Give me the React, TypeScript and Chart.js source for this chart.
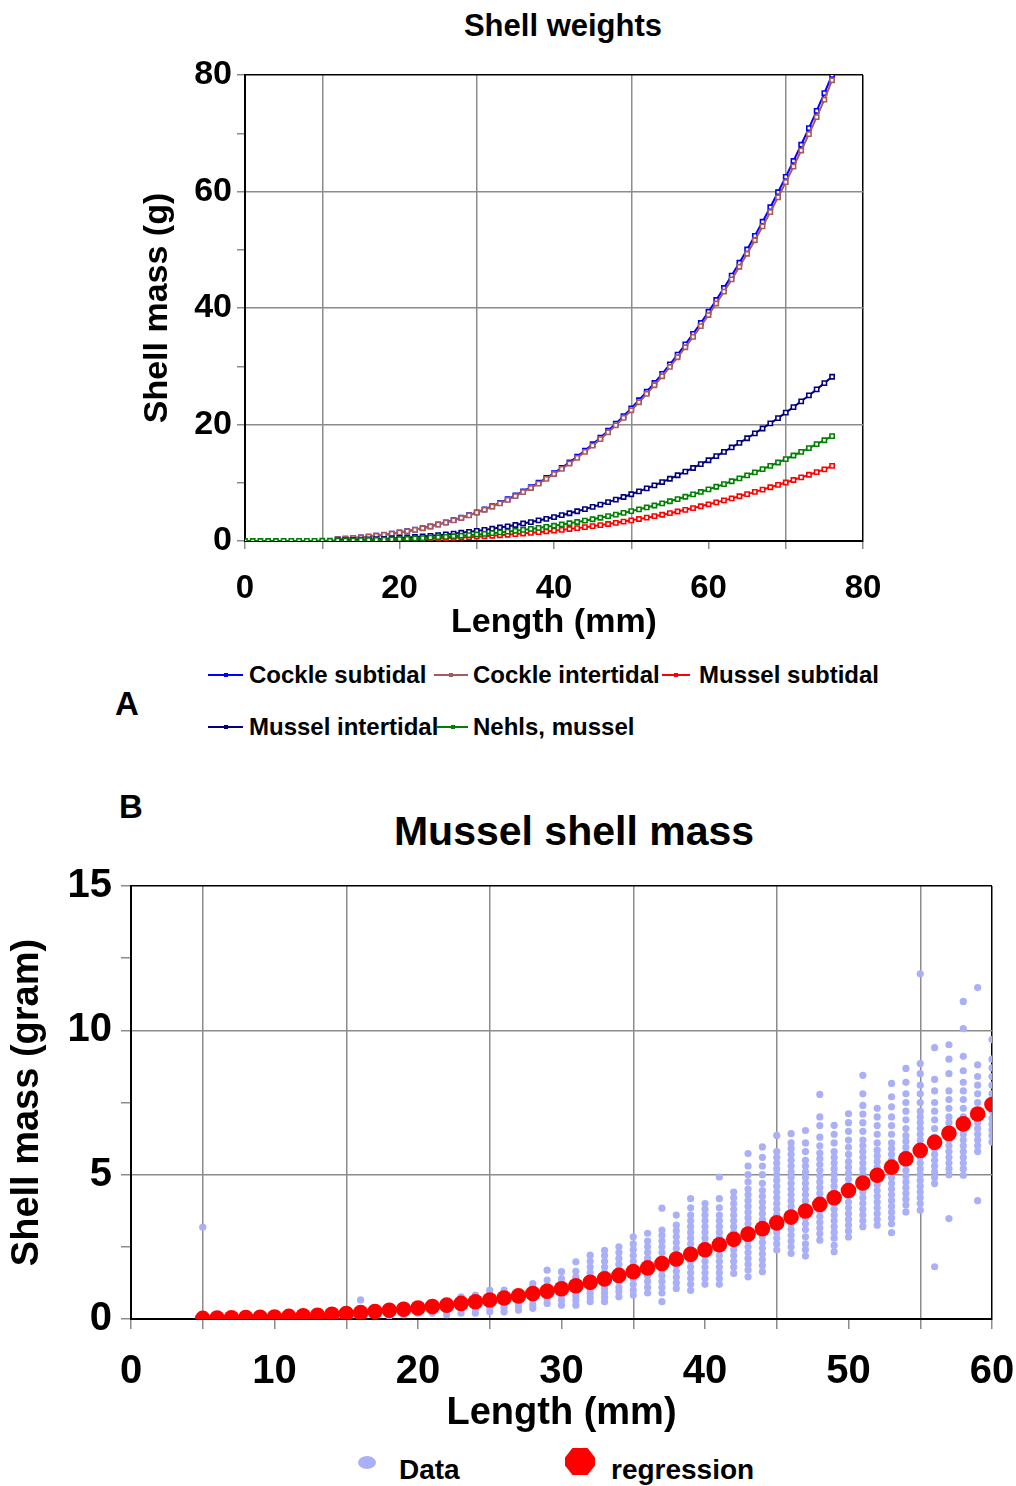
import React, { useEffect, useRef } from "react";
import { Chart, registerables } from "chart.js";

Chart.register(...registerables);

const FONT = "'Liberation Sans', Arial, Helvetica, sans-serif";
Chart.defaults.font.family = FONT;
Chart.defaults.color = "#000";

// ---------- Chart A: Shell weights ----------
const topLengths = [
  0, 1, 2, 3, 4, 5, 6, 7, 8, 9, 10, 11, 12, 13, 14, 15, 16, 17, 18, 19, 20,
  21, 22, 23, 24, 25, 26, 27, 28, 29, 30, 31, 32, 33, 34, 35, 36, 37, 38, 39, 40,
  41, 42, 43, 44, 45, 46, 47, 48, 49, 50, 51, 52, 53, 54, 55, 56, 57, 58, 59, 60,
  61, 62, 63, 64, 65, 66, 67, 68, 69, 70, 71, 72, 73, 74, 75, 76,
];
const N12 = [null, null, null, null, null, null, null, null, null, null, null, null];
const cockleSubtidal = [
  ...N12,
  0.32, 0.40, 0.50, 0.62, 0.75, 0.90, 1.06, 1.25, 1.46,
  1.69, 1.94, 2.22, 2.52, 2.85, 3.20, 3.59, 4.00, 4.45, 4.92,
  5.43, 5.97, 6.55, 7.16, 7.81, 8.50, 9.23, 10.00, 10.81, 11.66,
  12.56, 13.50, 14.49, 15.52, 16.61, 17.74, 18.92, 20.15, 21.44, 22.78,
  24.17, 25.62, 27.13, 28.70, 30.32, 32.00, 33.75, 35.56, 37.43, 39.36,
  41.37, 43.43, 45.57, 47.77, 50.05, 52.39, 54.81, 57.30, 59.87, 62.51,
  65.23, 68.02, 70.89, 73.85, 76.88, 80.00,
];
const cockleIntertidal = [
  ...N12,
  0.33, 0.42, 0.52, 0.63, 0.76, 0.91, 1.07, 1.25, 1.45,
  1.67, 1.92, 2.19, 2.49, 2.81, 3.16, 3.54, 3.95, 4.39, 4.86,
  5.36, 5.89, 6.46, 7.06, 7.71, 8.39, 9.10, 9.86, 10.66, 11.50,
  12.38, 13.31, 14.28, 15.30, 16.37, 17.49, 18.65, 19.86, 21.13, 22.45,
  23.82, 25.25, 26.74, 28.28, 29.88, 31.54, 33.26, 35.04, 36.88, 38.79,
  40.77, 42.80, 44.91, 47.08, 49.32, 51.63, 54.01, 56.47, 59.00, 61.60,
  64.28, 67.03, 69.86, 72.77, 75.76, 79.10,
];
const musselSubtidal = [
  ...N12,
  0.05, 0.06, 0.08, 0.09, 0.11, 0.13, 0.16, 0.19, 0.22,
  0.25, 0.29, 0.33, 0.38, 0.43, 0.48, 0.54, 0.60, 0.67, 0.74,
  0.82, 0.90, 0.99, 1.08, 1.18, 1.29, 1.40, 1.52, 1.64, 1.77,
  1.91, 2.06, 2.21, 2.37, 2.55, 2.73, 2.92, 3.12, 3.33, 3.55,
  3.77, 4.01, 4.26, 4.51, 4.78, 5.06, 5.35, 5.65, 5.97, 6.30,
  6.63, 6.97, 7.32, 7.68, 8.05, 8.43, 8.82, 9.22, 9.63, 10.05,
  10.48, 10.92, 11.37, 11.83, 12.30, 12.90,
];
const musselIntertidal = [
  ...N12,
  0.11, 0.14, 0.18, 0.22, 0.26, 0.32, 0.37, 0.44, 0.51,
  0.60, 0.68, 0.78, 0.89, 1.00, 1.13, 1.26, 1.41, 1.57, 1.73,
  1.91, 2.11, 2.31, 2.52, 2.75, 3.00, 3.25, 3.53, 3.81, 4.11,
  4.43, 4.76, 5.11, 5.47, 5.86, 6.25, 6.67, 7.10, 7.56, 8.03,
  8.52, 9.03, 9.56, 10.12, 10.69, 11.28, 11.90, 12.54, 13.19, 13.87,
  14.58, 15.31, 16.06, 16.84, 17.64, 18.47, 19.32, 20.20, 21.10, 22.03,
  22.99, 23.98, 24.99, 26.03, 27.10, 28.20,
];
const nehlsMussel = [
  0, 0, 0, 0, 0, 0.01, 0.01, 0.01, 0.02, 0.03, 0.04, 0.05,
  0.07, 0.09, 0.11, 0.14, 0.17, 0.20, 0.24, 0.28, 0.33,
  0.38, 0.44, 0.50, 0.57, 0.64, 0.72, 0.81, 0.90, 1.00, 1.11,
  1.22, 1.34, 1.47, 1.61, 1.76, 1.91, 2.08, 2.25, 2.43, 2.62,
  2.83, 3.04, 3.26, 3.49, 3.74, 3.99, 4.26, 4.53, 4.82, 5.13,
  5.44, 5.76, 6.10, 6.46, 6.82, 7.20, 7.59, 8.00, 8.42, 8.86,
  9.31, 9.77, 10.25, 10.75, 11.26, 11.79, 12.33, 12.89, 13.47, 14.06,
  14.68, 15.30, 15.95, 16.62, 17.30, 18.00,
];
const topSeriesNames = [
  "Cockle subtidal",
  "Cockle intertidal",
  "Mussel subtidal",
  "Mussel intertidal",
  "Nehls, mussel",
];
const topSeriesValues = [cockleSubtidal, cockleIntertidal, musselSubtidal, musselIntertidal, nehlsMussel];
const topSeriesColors = ["#0000ff", "#a85a5a", "#ff0000", "#000080", "#008000"];
const topXTicks = [0, 20, 40, 60, 80];
const topYTicks = [0, 20, 40, 60, 80];

// ---------- Chart B: Mussel shell mass ----------
const dataLengths = [
  5, 16, 17, 18, 19, 20, 21, 22, 23, 24, 25, 26, 27, 28, 29, 30, 31, 32, 33, 34,
  35, 36, 37, 38, 39, 40, 41, 42, 43, 44, 45, 46, 47, 48, 49, 50, 51, 52, 53, 54,
  55, 56, 57, 58, 59, 60,
];
const dataMasses = [
  [3.18],
  [0.66, 0.35],
  [0.3, 0.2],
  [0.1, 0.25, 0.4],
  [0.15, 0.3, 0.48],
  [0.2, 0.35, 0.5],
  [0.2, 0.3, 0.45],
  [0.15, 0.3, 0.48, 0.6],
  [0.2, 0.35, 0.5, 0.65, 0.77],
  [0.2, 0.35, 0.5, 0.65, 0.83],
  [0.25, 0.4, 0.55, 0.7, 0.85, 1.0],
  [0.25, 0.4, 0.55, 0.7, 0.85, 1.0],
  [0.3, 0.45, 0.6, 0.7, 0.83],
  [0.37, 0.5, 0.65, 0.8, 0.95, 1.1, 1.23],
  [0.54, 0.7, 0.85, 1.0, 1.15, 1.35, 1.69],
  [0.48, 0.65, 0.8, 0.95, 1.1, 1.25, 1.4, 1.64],
  [0.48, 0.65, 0.8, 0.95, 1.1, 1.25, 1.45, 1.65, 1.98],
  [0.6, 0.75, 0.9, 1.05, 1.2, 1.4, 1.6, 1.8, 2.0, 2.21],
  [0.6, 0.75, 0.9, 1.05, 1.2, 1.4, 1.6, 1.8, 2.0, 2.2, 2.38],
  [0.77, 0.95, 1.1, 1.3, 1.5, 1.7, 1.9, 2.1, 2.3, 2.5],
  [0.83, 1.0, 1.2, 1.4, 1.6, 1.8, 2.0, 2.2, 2.4, 2.6, 2.85],
  [0.9, 1.1, 1.3, 1.5, 1.7, 1.9, 2.1, 2.3, 2.5, 2.7, 2.97],
  [0.6, 0.9, 1.1, 1.3, 1.5, 1.7, 1.9, 2.1, 2.3, 2.5, 2.7, 2.9, 3.08, 3.84],
  [1.06, 1.25, 1.45, 1.65, 1.85, 2.05, 2.25, 2.45, 2.65, 2.85, 3.05, 3.25, 3.6],
  [0.99, 1.2, 1.4, 1.6, 1.8, 2.0, 2.2, 2.4, 2.6, 2.8, 3.0, 3.2, 3.4, 3.6, 3.85, 4.17],
  [1.2, 1.4, 1.6, 1.8, 2.0, 2.2, 2.4, 2.6, 2.8, 3.0, 3.2, 3.4, 3.6, 3.8, 4.0],
  [1.2, 1.4, 1.6, 1.8, 2.0, 2.2, 2.4, 2.6, 2.8, 3.0, 3.2, 3.4, 3.6, 3.85, 4.17, 4.92],
  [1.58, 1.8, 2.0, 2.2, 2.4, 2.6, 2.8, 3.0, 3.2, 3.4, 3.6, 3.8, 4.0, 4.2, 4.4],
  [1.46, 1.7, 1.9, 2.1, 2.3, 2.5, 2.7, 2.9, 3.1, 3.3, 3.5, 3.7, 3.9, 4.1, 4.3, 4.5, 4.75, 5.0, 5.3, 5.73],
  [1.64, 1.85, 2.05, 2.25, 2.45, 2.65, 2.85, 3.05, 3.25, 3.45, 3.65, 3.85, 4.05, 4.25, 4.45, 4.7, 5.0, 5.3, 5.6, 5.96],
  [2.39, 2.6, 2.8, 3.0, 3.2, 3.4, 3.6, 3.8, 4.0, 4.2, 4.4, 4.6, 4.8, 5.0, 5.2, 5.4, 5.6, 5.8, 6.36],
  [2.27, 2.5, 2.7, 2.9, 3.1, 3.3, 3.5, 3.7, 3.9, 4.1, 4.3, 4.5, 4.7, 4.9, 5.1, 5.3, 5.5, 5.7, 5.9, 6.1, 6.42],
  [2.18, 2.4, 2.6, 2.85, 3.1, 3.3, 3.5, 3.7, 3.9, 4.1, 4.3, 4.5, 4.7, 4.9, 5.1, 5.3, 5.5, 5.8, 6.1, 6.53],
  [2.73, 2.95, 3.15, 3.35, 3.55, 3.75, 3.95, 4.15, 4.35, 4.55, 4.75, 4.95, 5.15, 5.35, 5.55, 5.75, 6.0, 6.3, 6.7, 7.0, 7.78],
  [2.33, 2.55, 2.8, 3.0, 3.2, 3.4, 3.6, 3.8, 4.0, 4.2, 4.4, 4.6, 4.8, 5.0, 5.2, 5.4, 5.6, 5.8, 6.1, 6.4, 6.71],
  [2.84, 3.05, 3.25, 3.45, 3.65, 3.85, 4.05, 4.25, 4.45, 4.65, 4.85, 5.05, 5.25, 5.45, 5.7, 5.95, 6.2, 6.5, 6.8, 7.11],
  [3.2, 3.4, 3.6, 3.8, 4.0, 4.2, 4.4, 4.6, 4.8, 5.0, 5.2, 5.4, 5.6, 5.8, 6.0, 6.2, 6.5, 6.8, 7.1, 7.4, 7.8, 8.44],
  [3.25, 3.45, 3.65, 3.85, 4.05, 4.25, 4.45, 4.65, 4.85, 5.05, 5.25, 5.45, 5.65, 5.85, 6.1, 6.4, 6.7, 7.0, 7.3],
  [2.99, 3.3, 3.5, 3.7, 3.9, 4.1, 4.3, 4.5, 4.7, 4.9, 5.1, 5.3, 5.5, 5.7, 5.9, 6.1, 6.4, 6.7, 7.0, 7.35, 7.7, 8.16],
  [3.71, 3.95, 4.15, 4.35, 4.55, 4.75, 4.95, 5.15, 5.35, 5.55, 5.75, 5.95, 6.15, 6.35, 6.6, 6.9, 7.2, 7.5, 7.8, 8.2, 8.68],
  [3.77, 4.0, 4.2, 4.4, 4.6, 4.8, 5.0, 5.2, 5.4, 5.6, 5.8, 6.0, 6.2, 6.4, 6.6, 6.8, 7.0, 7.2, 7.5, 7.8, 8.1, 8.5, 8.85, 11.96],
  [1.81, 4.69, 4.9, 5.1, 5.3, 5.5, 5.7, 5.9, 6.1, 6.3, 6.6, 6.9, 7.2, 7.5, 7.9, 8.3, 9.4],
  [3.48, 5.0, 5.2, 5.4, 5.6, 5.8, 6.0, 6.2, 6.4, 6.6, 6.8, 7.0, 7.3, 7.6, 7.9, 8.5, 9.0, 9.5],
  [4.98, 5.2, 5.4, 5.6, 5.8, 6.0, 6.2, 6.4, 6.6, 6.8, 7.0, 7.3, 7.6, 7.9, 8.2, 8.6, 9.1, 10.06, 11.0],
  [4.1, 5.8, 6.0, 6.2, 6.4, 6.6, 6.8, 7.0, 7.2, 7.5, 7.8, 8.1, 8.4, 8.8, 11.48],
  [6.13, 6.35, 6.55, 6.75, 6.95, 7.2, 7.5, 7.8, 8.1, 8.4, 8.7, 9.0, 9.68],
];
const regLengths = [
  5, 6, 7, 8, 9, 10, 11, 12, 13, 14, 15, 16, 17, 18, 19, 20, 21, 22, 23, 24, 25,
  26, 27, 28, 29, 30, 31, 32, 33, 34, 35, 36, 37, 38, 39, 40, 41, 42, 43, 44, 45,
  46, 47, 48, 49, 50, 51, 52, 53, 54, 55, 56, 57, 58, 59, 60,
];
const regMasses = [
  0.02, 0.03, 0.04, 0.05, 0.06, 0.07, 0.09, 0.11, 0.13, 0.16, 0.19,
  0.22, 0.26, 0.30, 0.34, 0.38, 0.43, 0.48, 0.54, 0.60, 0.66,
  0.73, 0.80, 0.88, 0.96, 1.05, 1.15, 1.27, 1.39, 1.51, 1.64,
  1.77, 1.92, 2.08, 2.24, 2.40, 2.57, 2.76, 2.94, 3.13, 3.33,
  3.53, 3.74, 3.97, 4.20, 4.45, 4.71, 4.98, 5.26, 5.55, 5.84,
  6.12, 6.43, 6.76, 7.10, 7.43,
];
const bottomXTicks = [0, 10, 20, 30, 40, 50, 60];
const bottomYTicks = [0, 5, 10, 15];

const GRID = "#8c8c8c";
const CLEAR = "rgba(0,0,0,0)";

function TopChart() {
  const ref = useRef<HTMLCanvasElement>(null);
  useEffect(() => {
    const datasets = topSeriesNames.map((name, i) => ({
      label: name,
      data: topLengths
        .map((x, j) => ({ x, y: topSeriesValues[i][j] }))
        .filter((p) => p.y !== null),
      borderColor: topSeriesColors[i],
      backgroundColor: topSeriesColors[i],
      borderWidth: 2,
      pointStyle: "rect",
      pointRadius: 3,
      pointBorderWidth: 1.6,
      pointBorderColor: topSeriesColors[i],
      pointBackgroundColor: "#ffffff",
      tension: 0,
      order: topSeriesNames.length - i,
    }));
    const chart = new Chart(ref.current!, {
      type: "line",
      data: { datasets },
      options: {
        animation: false,
        responsive: false,
        devicePixelRatio: 1,
        events: [],
        layout: { padding: { left: 129, right: 145, top: 67, bottom: 0 } },
        plugins: { legend: { display: false }, title: { display: false }, tooltip: { enabled: false } },
        scales: {
          x: {
            type: "linear",
            min: 0,
            max: 80,
            afterFit: (s: any) => {
              s.height = 107;
            },
            ticks: {
              stepSize: 10,
              autoSkip: false,
              maxRotation: 0,
              padding: 20,
              font: { size: 33, weight: "bold" },
              color: "#000",
              callback: (v: any) => (topXTicks.includes(Number(v)) ? String(v) : ""),
            },
            grid: {
              color: (c: any) => {
                const v = c.tick ? c.tick.value : 0;
                if (v === 80) return "#000";
                return v % 20 === 10 ? GRID : CLEAR;
              },
              lineWidth: 1.5,
              drawTicks: true,
              tickLength: 8,
              tickColor: GRID,
              tickWidth: 1.5,
            },
            border: { color: "#000", width: 2 },
            title: {
              display: true,
              text: "Length (mm)",
              font: { size: 34, weight: "bold" },
              color: "#000",
              padding: { top: 0, bottom: 5 },
            },
          },
          y: {
            type: "linear",
            min: 0,
            max: 80,
            afterFit: (s: any) => {
              s.width = 108;
            },
            ticks: {
              stepSize: 10,
              autoSkip: false,
              padding: 5,
              font: { size: 34, weight: "bold" },
              color: "#000",
              callback: (v: any) => (topYTicks.includes(Number(v)) ? String(v) : ""),
            },
            grid: {
              color: (c: any) => {
                const v = c.tick ? c.tick.value : 0;
                if (v === 80) return "#000";
                return v % 20 === 0 ? GRID : CLEAR;
              },
              lineWidth: 1.5,
              drawTicks: true,
              tickLength: 8,
              tickColor: GRID,
              tickWidth: 1.5,
            },
            border: { color: "#000", width: 2 },
            title: {
              display: true,
              text: "Shell mass (g)",
              font: { size: 34, weight: "bold" },
              color: "#000",
              padding: { top: 0, bottom: 0 },
            },
          },
        },
      },
    } as any);
    return () => chart.destroy();
  }, []);
  return (
    <canvas
      ref={ref}
      width={1000}
      height={640}
      style={{ position: "absolute", left: 0, top: 0, width: 1000, height: 640 }}
    />
  );
}

function BottomChart() {
  const ref = useRef<HTMLCanvasElement>(null);
  useEffect(() => {
    const dataPoints: { x: number; y: number }[] = [];
    dataLengths.forEach((x, i) => dataMasses[i].forEach((y) => dataPoints.push({ x, y })));
    const regPoints = regLengths.map((x, i) => ({ x, y: regMasses[i] }));
    const chart = new Chart(ref.current!, {
      type: "scatter",
      data: {
        datasets: [
          {
            label: "Data",
            data: dataPoints,
            backgroundColor: "#aab0f8",
            borderWidth: 0,
            pointRadius: 3.6,
            pointStyle: "circle",
            order: 1,
          },
          {
            label: "regression",
            data: regPoints,
            backgroundColor: "#ff0000",
            borderWidth: 0,
            pointRadius: 7.8,
            pointStyle: "circle",
            order: 0,
          },
        ],
      },
      options: {
        animation: false,
        responsive: false,
        devicePixelRatio: 1,
        events: [],
        layout: { padding: { left: 1, right: 24, top: 27, bottom: 0 } },
        plugins: { legend: { display: false }, title: { display: false }, tooltip: { enabled: false } },
        scales: {
          x: {
            type: "linear",
            min: 0,
            max: 60,
            afterFit: (s: any) => {
              s.height = 129;
              s.paddingLeft = 0;
              s.paddingRight = 0;
            },
            ticks: {
              stepSize: 5,
              autoSkip: false,
              maxRotation: 0,
              padding: 19,
              font: { size: 40, weight: "bold" },
              color: "#000",
              callback: (v: any) => (bottomXTicks.includes(Number(v)) ? String(v) : ""),
            },
            grid: {
              color: (c: any) => {
                const v = c.tick ? c.tick.value : 0;
                if (v === 60) return "#000";
                return v % 10 === 5 ? GRID : CLEAR;
              },
              lineWidth: 1.5,
              drawTicks: true,
              tickLength: 10,
              tickColor: GRID,
              tickWidth: 1.5,
            },
            border: { color: "#000", width: 2 },
            title: {
              display: true,
              text: "Length (mm)",
              font: { size: 38, weight: "bold" },
              color: "#000",
              padding: { top: 0, bottom: 12 },
            },
          },
          y: {
            type: "linear",
            min: 0,
            max: 15,
            afterFit: (s: any) => {
              s.width = 122;
            },
            ticks: {
              stepSize: 2.5,
              autoSkip: false,
              padding: 9,
              font: { size: 40, weight: "bold" },
              color: "#000",
              callback: (v: any) => (bottomYTicks.includes(Number(v)) ? String(v) : ""),
            },
            grid: {
              color: (c: any) => {
                const v = c.tick ? c.tick.value : 0;
                if (v === 15) return "#000";
                return v === 5 || v === 10 ? GRID : CLEAR;
              },
              lineWidth: 1.5,
              drawTicks: true,
              tickLength: 10,
              tickColor: GRID,
              tickWidth: 1.5,
            },
            border: { color: "#000", width: 2 },
            title: {
              display: true,
              text: "Shell mass (gram)",
              font: { size: 38, weight: "bold", lineHeight: 1 },
              color: "#000",
              padding: { top: 0, bottom: 0 },
            },
          },
        },
      },
    } as any);
    return () => chart.destroy();
  }, []);
  return (
    <canvas
      ref={ref}
      width={1008}
      height={595}
      style={{ position: "absolute", left: 0, top: 845, width: 1008, height: 595 }}
    />
  );
}

const textBase: React.CSSProperties = {
  position: "absolute",
  fontFamily: FONT,
  fontWeight: "bold",
  color: "#000",
  lineHeight: 1,
  whiteSpace: "nowrap",
};

function Centered({ x, y, size, children }: { x: number; y: number; size: number; children: React.ReactNode }) {
  return (
    <div style={{ ...textBase, left: x, top: y, fontSize: size, transform: "translate(-50%, -50%)" }}>{children}</div>
  );
}

function LegendItem({ x, y, lineW, textX, color, label }: { x: number; y: number; lineW: number; textX: number; color: string; label: string }) {
  return (
    <>
      <div style={{ position: "absolute", left: x, top: y - 1, width: lineW, height: 2, background: color }} />
      <div
        style={{
          position: "absolute",
          left: x + lineW / 2 - 2,
          top: y - 2,
          width: 4,
          height: 4,
          background: color,
        }}
      />
      <div style={{ ...textBase, left: textX, top: y, fontSize: 24, transform: "translateY(-50%)" }}>{label}</div>
    </>
  );
}

// legend layout positions (container coordinates)
const topLegendPos = [
  { x: 200, y: 667, w: 35, tx: 241 },
  { x: 426, y: 667, w: 34, tx: 465 },
  { x: 654, y: 667, w: 28, tx: 691 },
  { x: 200, y: 719, w: 35, tx: 241 },
  { x: 429, y: 719, w: 31, tx: 465 },
];

export default function App() {
  useEffect(() => {
    const body = document.body;
    const prevOverflow = body.style.overflow;
    const prevMarginRight = body.style.marginRight;
    body.style.overflow = "hidden";
    body.style.marginRight = "0px";
    return () => {
      body.style.overflow = prevOverflow;
      body.style.marginRight = prevMarginRight;
    };
  }, []);
  return (
    <div
      style={{
        position: "relative",
        width: 1008,
        height: 1478,
        background: "#fff",
        overflow: "hidden",
      }}
    >
      <Centered x={555} y={17} size={31}>
        Shell weights
      </Centered>
      <TopChart />
      {topSeriesNames.map((name, i) => (
        <LegendItem
          key={name}
          x={topLegendPos[i].x}
          y={topLegendPos[i].y}
          lineW={topLegendPos[i].w}
          textX={topLegendPos[i].tx}
          color={topSeriesColors[i]}
          label={name}
        />
      ))}
      <Centered x={119} y={695} size={33}>
        A
      </Centered>
      <Centered x={123} y={798} size={33}>
        B
      </Centered>
      <Centered x={566} y={823} size={41}>
        Mussel shell mass
      </Centered>
      <BottomChart />
      <div
        style={{
          position: "absolute",
          left: 350,
          top: 1448,
          width: 18,
          height: 13,
          borderRadius: "50%",
          background: "#aab0f8",
        }}
      />
      <div style={{ ...textBase, left: 391, top: 1462, fontSize: 28, transform: "translateY(-50%)" }}>Data</div>
      <div
        style={{
          position: "absolute",
          left: 557,
          top: 1440,
          width: 30,
          height: 27,
          background: "#ff0000",
          clipPath: "polygon(25% 0%, 75% 0%, 100% 35%, 100% 65%, 75% 100%, 25% 100%, 0% 65%, 0% 35%)",
        }}
      />
      <div style={{ ...textBase, left: 603, top: 1462, fontSize: 28, transform: "translateY(-50%)" }}>regression</div>
    </div>
  );
}
